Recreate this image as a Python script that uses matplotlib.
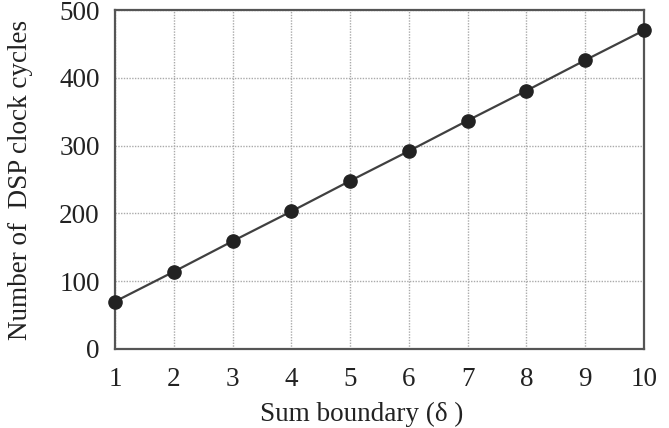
import matplotlib.pyplot as plt

plt.rcParams['font.family'] = ['Liberation Serif', 'DejaVu Serif']

sum_boundary = [1, 2, 3, 4, 5, 6, 7, 8, 9, 10]
dsp_cycles = [70, 114, 159, 203, 248, 292, 337, 381, 426, 470]

fig = plt.figure(figsize=(6.69, 4.28), dpi=100)
ax = fig.add_axes([115 / 669, 1 - 349 / 428, 529 / 669, 339 / 428])

ax.plot(sum_boundary, dsp_cycles, color="#404040", linewidth=1.6,
        marker="o", markersize=9.5, markerfacecolor="#222222",
        markeredgecolor="#222222", zorder=3, clip_on=False)

ax.set_xlim(1, 10)
ax.set_ylim(0, 500)
ax.set_xticks(sum_boundary)
ax.set_yticks([0, 100, 200, 300, 400, 500])
ax.grid(True, color="#aaaaaa", linestyle=(0, (1, 1)), linewidth=1.0)
ax.set_axisbelow(True)
ax.tick_params(length=0, labelsize=19.5, colors="#222222")
ax.tick_params(axis="x", pad=13)
ax.tick_params(axis="y", pad=11)

for s in ax.spines.values():
    s.set_color("#555555")
    s.set_linewidth(1.6)

ax.set_xlabel("Sum boundary (δ )", fontsize=19.5, color="#222222")
ax.set_ylabel("Number of  DSP clock cycles", fontsize=19.5, color="#222222")
# the x label sits a bit left of centre in the original
ax.xaxis.set_label_coords(0.466, -0.155)
ax.yaxis.set_label_coords(-0.155, 0.5)

fig.savefig("out.png", dpi=100)
